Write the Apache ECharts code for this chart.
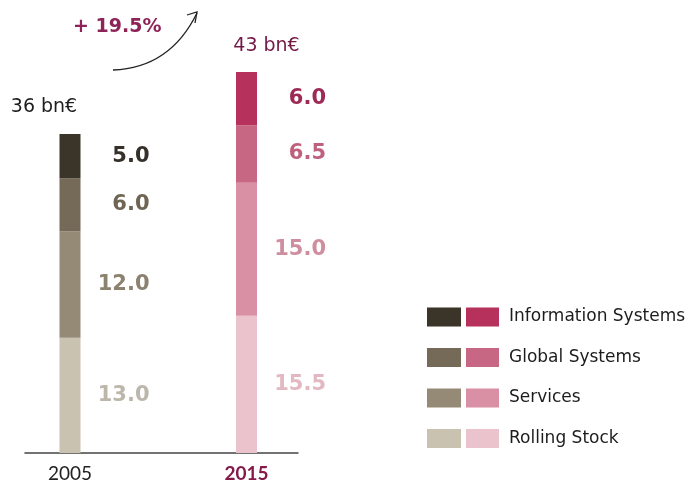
<!DOCTYPE html>
<html>
<head>
<meta charset="utf-8">
<title>Revenue by segment, 2005 vs 2015</title>
<script src="https://cdn.jsdelivr.net/npm/echarts@6/dist/echarts.min.js"></script>
<style>
  html, body { margin: 0; padding: 0; background: #ffffff; }
  #chart { width: 691px; height: 485px; }
</style>
</head>
<body>
<div id="chart"></div>
<script>
// ---- data ----
const categories = ['2005', '2015'];
// stacked bottom to top
const segments = ['Rolling Stock', 'Services', 'Global Systems', 'Information Systems'];
const values2005 = [13.0, 12.0, 6.0, 5.0];
const values2015 = [15.5, 15.0, 6.5, 6.0];
const unitLabel = 'bn€';
const growthLabel = '+ 19.5%';

// ---- styles ----
const barColors2005 = ['#c9c2b1', '#958a76', '#756a57', '#3b3428'];
const barColors2015 = ['#ebc3cc', '#da90a4', '#c86783', '#b7315d'];
const textColors2005 = ['#bcb7aa', '#8b8270', '#6f6553', '#35302a'];
const textColors2015 = ['#e2b8c2', '#cf8ea0', '#bf617e', '#9c2a55'];
const valueFont = { fontFamily: 'DejaVu Sans', fontSize: 21, fontWeight: 'bold' };

const chart = echarts.init(document.getElementById('chart'), null, { renderer: 'canvas' });

function makeSeries(values, colors, textColors, yearIndex, suffix) {
  return values.map((v, i) => ({
    name: segments[i] + suffix,
    type: 'bar',
    stack: 'total',
    barWidth: 21,
    clip: false,
    xAxisIndex: 0,
    yAxisIndex: 0,
    itemStyle: { color: colors[i] },
    label: {
      show: true,
      position: [90, '50%'],
      align: 'right',
      verticalAlign: 'middle',
      formatter: (p) => Number(p.value).toFixed(1),
      color: textColors[i],
      ...valueFont
    },
    data: categories.map((c, k) => (k === yearIndex ? v : '-'))
  }));
}

const series2005 = makeSeries(values2005, barColors2005, textColors2005, 0, ' (2005)');
const series2015 = makeSeries(values2015, barColors2015, textColors2015, 1, '');

const totals = [values2005, values2015].map(arr => arr.reduce((a, b) => a + b, 0));

// totals written above each bar
const totalSeries = {
  name: 'Total',
  type: 'scatter',
  xAxisIndex: 0,
  yAxisIndex: 0,
  symbolSize: 0,
  silent: true,
  itemStyle: { opacity: 1 },
  label: {
    show: true,
    position: 'inside',
    opacity: 1,
    fontFamily: 'DejaVu Sans',
    fontSize: 19,
    formatter: (p) => Math.round(p.value[1]) + ' ' + unitLabel
  },
  data: [
    { value: [categories[0], totals[0]], label: { offset: [-26, -27], color: '#1e1e1e' } },
    { value: [categories[1], totals[1]], label: { offset: [20, -26], color: '#741a47' } }
  ]
};

const legendOrder = segments.slice().reverse();

const option = {
  animation: false,
  backgroundColor: '#ffffff',
  grid: [
    { left: 70, right: 444.5, top: 10, bottom: 32 },
    { left: 25, right: 393, top: 10, bottom: 32 }
  ],
  xAxis: [
    {
      type: 'category',
      gridIndex: 0,
      data: categories,
      boundaryGap: false,
      axisLine: { show: false },
      axisTick: { show: false },
      axisLabel: {
        margin: 11,
        fontFamily: 'Lato',
        fontSize: 19,
        color: '#222222',
        formatter: (v) => (v === categories[1] ? '{hl|' + v + '}' : v),
        rich: {
          hl: { fontFamily: 'Lato', fontSize: 19, fontWeight: 'bold', color: '#851a4a' }
        }
      }
    },
    {
      type: 'value',
      gridIndex: 1,
      min: 0,
      max: 1,
      axisLine: { show: true, lineStyle: { color: '#444444', width: 1.5 } },
      axisTick: { show: false },
      axisLabel: { show: false },
      splitLine: { show: false }
    }
  ],
  yAxis: [
    { type: 'value', gridIndex: 0, min: 0, max: 50, show: false },
    { type: 'value', gridIndex: 1, min: 0, max: 1, show: false }
  ],
  legend: [
    {
      orient: 'vertical',
      left: 427,
      top: 307.5,
      padding: 0,
      itemWidth: 34,
      itemHeight: 19,
      itemGap: 21.5,
      icon: 'rect',
      selectedMode: false,
      formatter: () => '',
      textStyle: { lineHeight: 19 },
      data: legendOrder.map(n => n + ' (2005)')
    },
    {
      orient: 'vertical',
      left: 466,
      top: 307.5,
      padding: 0,
      itemWidth: 33,
      itemHeight: 19,
      itemGap: 21.5,
      icon: 'rect',
      selectedMode: false,
      textStyle: {
        fontFamily: 'DejaVu Sans',
        fontSize: 17,
        lineHeight: 19,
        color: '#1c1c1c',
        padding: [0, 0, 0, 5]
      },
      data: legendOrder
    }
  ],
  graphic: [
    {
      type: 'text',
      left: 73,
      top: 18,
      style: {
        text: growthLabel,
        fontFamily: 'DejaVu Sans',
        fontSize: 19,
        fontWeight: 'bold',
        fill: '#8e2358'
      }
    },
    {
      type: 'bezierCurve',
      shape: { x1: 113, y1: 70, cpx1: 170, cpy1: 68, x2: 197, y2: 13 },
      style: { stroke: '#222222', lineWidth: 1.3, fill: null }
    },
    {
      type: 'polyline',
      shape: { points: [[187, 15], [197, 12], [195, 23]] },
      style: { stroke: '#222222', lineWidth: 1.3, fill: null }
    }
  ],
  series: [...series2005, ...series2015, totalSeries]
};

chart.setOption(option);
</script>
</body>
</html>
